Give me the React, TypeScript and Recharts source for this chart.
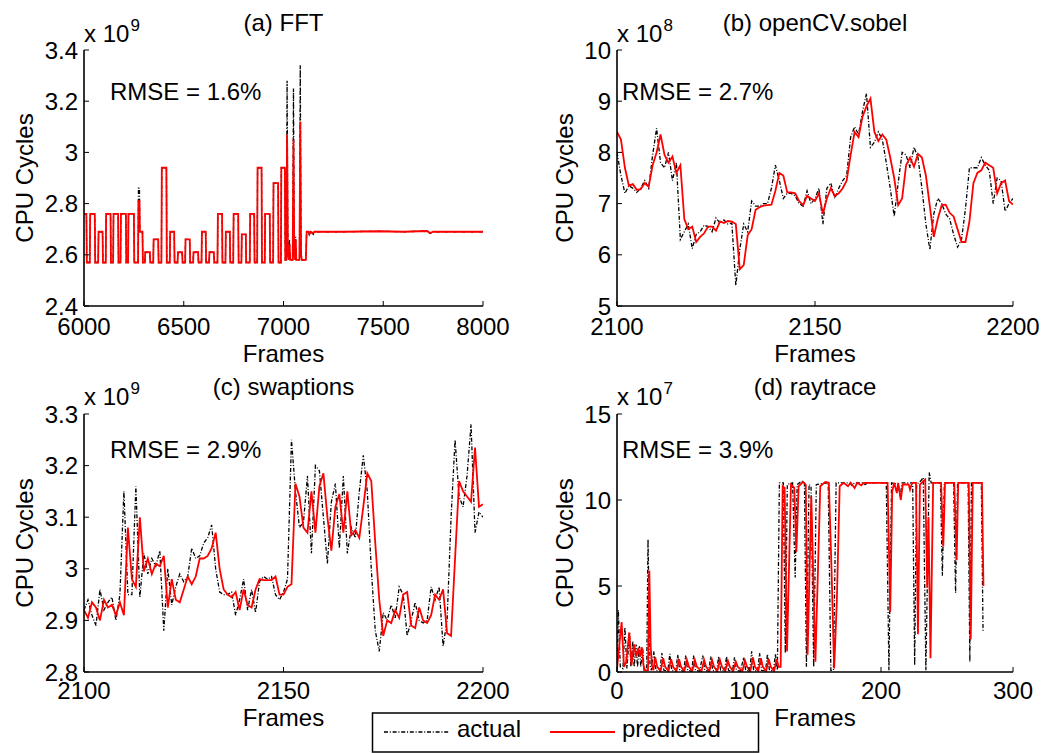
import { LineChart, Line, XAxis, YAxis } from 'recharts';

const FONT = '"Liberation Sans", Arial, Helvetica, sans-serif';

// (a) FFT, x 10^9 cycles, square-wave breakpoints (frame, value)
const fftFrames = [
  6000, 6012, 6014, 6029, 6031, 6054, 6056, 6071, 6073, 6093, 6095, 6109,
  6111, 6133, 6135, 6146, 6148, 6171, 6173, 6183, 6185, 6210, 6212, 6221,
  6223, 6250, 6252, 6271, 6273, 6278, 6280, 6293, 6295, 6305, 6307, 6330,
  6332, 6347, 6349, 6372, 6374, 6388, 6390, 6413, 6415, 6430, 6432, 6452,
  6454, 6469, 6471, 6492, 6494, 6507, 6509, 6530, 6532, 6547, 6549, 6572,
  6574, 6589, 6591, 6610, 6612, 6627, 6629, 6651, 6653, 6669, 6671, 6692,
  6694, 6709, 6711, 6731, 6733, 6748, 6750, 6773, 6775, 6789, 6791, 6811,
  6813, 6831, 6833, 6853, 6855, 6868, 6870, 6890, 6892, 6906, 6908, 6931,
  6933, 6948, 6950, 6973, 6975, 6987, 6989, 7007, 7009, 7014, 7018, 7022,
  7026, 7030, 7034, 7046, 7050, 7054, 7058, 7061, 7064, 7080, 7084, 7088,
  7092, 7112, 7116, 7125, 7130, 7135, 7150, 7155, 7300, 7480, 7600, 7720,
  7735, 7750, 7900, 8000,
];
const fftActual = [
  2.76, 2.76, 2.57, 2.57, 2.76, 2.76, 2.57, 2.57, 2.69, 2.69, 2.57, 2.57,
  2.76, 2.76, 2.57, 2.57, 2.76, 2.76, 2.57, 2.57, 2.76, 2.76, 2.57, 2.57,
  2.76, 2.76, 2.57, 2.57, 2.86, 2.86, 2.69, 2.69, 2.57, 2.57, 2.61, 2.61,
  2.57, 2.57, 2.66, 2.66, 2.57, 2.57, 2.94, 2.94, 2.57, 2.57, 2.69, 2.69,
  2.57, 2.57, 2.61, 2.61, 2.57, 2.57, 2.66, 2.66, 2.57, 2.57, 2.61, 2.61,
  2.57, 2.57, 2.69, 2.69, 2.57, 2.57, 2.61, 2.61, 2.57, 2.57, 2.76, 2.76,
  2.57, 2.57, 2.69, 2.69, 2.57, 2.57, 2.76, 2.76, 2.57, 2.57, 2.68, 2.68,
  2.57, 2.57, 2.76, 2.76, 2.57, 2.57, 2.94, 2.94, 2.57, 2.57, 2.76, 2.76,
  2.57, 2.57, 2.88, 2.88, 2.57, 2.57, 2.94, 2.94, 2.58, 2.58, 3.28, 2.6,
  2.58, 2.66, 2.58, 2.58, 3.25, 2.6, 2.58, 2.67, 2.58, 2.58, 3.34, 2.6,
  2.58, 2.58, 2.69, 2.69, 2.675, 2.69, 2.68, 2.69, 2.69, 2.692, 2.69, 2.693,
  2.683, 2.69, 2.69, 2.69,
];
const fftPredicted = [
  2.76, 2.76, 2.57, 2.57, 2.76, 2.76, 2.57, 2.57, 2.69, 2.69, 2.57, 2.57,
  2.76, 2.76, 2.57, 2.57, 2.76, 2.76, 2.57, 2.57, 2.76, 2.76, 2.57, 2.57,
  2.76, 2.76, 2.57, 2.57, 2.81, 2.81, 2.69, 2.69, 2.57, 2.57, 2.61, 2.61,
  2.57, 2.57, 2.66, 2.66, 2.57, 2.57, 2.94, 2.94, 2.57, 2.57, 2.69, 2.69,
  2.57, 2.57, 2.61, 2.61, 2.57, 2.57, 2.66, 2.66, 2.57, 2.57, 2.61, 2.61,
  2.57, 2.57, 2.69, 2.69, 2.57, 2.57, 2.61, 2.61, 2.57, 2.57, 2.76, 2.76,
  2.57, 2.57, 2.69, 2.69, 2.57, 2.57, 2.76, 2.76, 2.57, 2.57, 2.68, 2.68,
  2.57, 2.57, 2.76, 2.76, 2.57, 2.57, 2.94, 2.94, 2.57, 2.57, 2.76, 2.76,
  2.57, 2.57, 2.88, 2.88, 2.57, 2.57, 2.94, 2.94, 2.58, 2.58, 3.07, 2.6,
  2.58, 2.64, 2.58, 2.58, 3.05, 2.6, 2.58, 2.66, 2.58, 2.58, 3.12, 2.6,
  2.58, 2.58, 2.69, 2.69, 2.68, 2.69, 2.685, 2.69, 2.69, 2.692, 2.69, 2.693,
  2.685, 2.69, 2.69, 2.69,
];

// (b) openCV.sobel, x 10^8 cycles, one value per frame from 2100
const sobelFirstFrame = 2100;
const sobelActual = [
  8.0, 7.55, 7.2, 7.35, 7.3, 7.22, 7.3, 7.45, 7.3, 7.95,
  8.47, 7.8, 7.7, 8.0, 7.45, 7.8, 6.3, 6.45, 6.6, 6.12,
  6.4, 6.45, 6.58, 6.55, 6.45, 6.72, 6.62, 6.68, 6.6, 6.62,
  5.4, 6.1, 6.6, 6.45, 7.05, 6.95, 6.95, 7.0, 7.0, 7.3,
  7.75, 7.45, 7.1, 7.2, 7.2, 7.15, 7.0, 6.95, 7.25, 7.0,
  7.1, 7.3, 6.6, 7.3, 7.4, 7.1, 7.3, 7.45, 7.55, 8.3,
  8.5, 8.35, 8.8, 9.15, 8.1, 8.2, 8.4, 8.25, 7.8, 7.3,
  6.75, 7.4, 8.0, 7.95, 7.7, 8.1, 7.9, 7.3, 6.6, 6.1,
  6.8, 7.1, 7.0, 6.8, 6.7, 6.4, 6.15, 6.3, 6.9, 7.7,
  7.7, 7.7, 7.9, 7.75, 7.65, 7.0, 7.5, 7.45, 6.85, 7.0,
  7.1,
];
const sobelPredicted = [
  8.4, 8.25, 7.7, 7.35, 7.38, 7.27, 7.28, 7.4, 7.33, 7.75,
  8.0, 8.35, 7.95, 7.8, 7.92, 7.6, 7.75, 6.7, 6.5, 6.55,
  6.25, 6.35, 6.42, 6.55, 6.55, 6.47, 6.65, 6.62, 6.66, 6.65,
  6.6, 5.72, 5.8, 6.38, 6.5, 6.88, 6.93, 6.96, 6.97, 6.98,
  7.25, 7.6, 7.55, 7.22, 7.22, 7.2, 7.05, 6.97, 7.15, 7.1,
  7.05, 7.2, 6.8, 7.1, 7.3, 7.15, 7.2, 7.3, 7.45, 7.95,
  8.4, 8.3, 8.7, 8.9, 9.05, 8.4, 8.22, 8.35, 8.25, 7.9,
  7.5, 6.97, 7.1, 7.75, 7.9, 7.72, 7.97, 7.9, 7.55, 6.95,
  6.35, 6.7, 6.97, 6.98, 6.82, 6.75, 6.5, 6.25, 6.25, 6.65,
  7.4, 7.6, 7.65, 7.8, 7.75, 7.7, 7.2, 7.4, 7.45, 7.05,
  6.98,
];

// (c) swaptions, x 10^9 cycles, one value per frame from 2100
const swapFirstFrame = 2100;
const swapActual = [
  2.92, 2.94, 2.91, 2.89, 2.96, 2.92, 2.935, 2.945, 2.9, 2.95,
  3.15, 2.95, 2.95, 3.16, 2.945, 3.03, 2.99, 3.02, 3.005, 3.035,
  2.88, 3.0, 2.93, 2.965, 2.99, 2.975, 2.985, 3.04, 3.02, 3.025,
  3.05, 3.06, 3.085, 3.0, 2.955, 2.95, 2.95, 2.955, 2.91, 2.94,
  2.98, 2.92, 2.96, 2.915, 2.975, 2.985, 2.98, 2.985, 2.95, 2.94,
  2.955, 2.98, 3.25, 3.15, 3.08, 3.09, 3.18, 3.03, 3.2, 3.19,
  3.1, 3.01, 3.13, 3.165, 3.04, 3.18, 3.03, 3.08, 3.06, 3.15,
  3.22, 3.15, 3.0, 2.88, 2.84, 2.915, 2.9, 2.93, 2.905, 2.965,
  2.95, 2.87, 2.9, 2.935, 2.9, 2.895, 2.9, 2.965, 2.94, 2.965,
  2.85, 2.9, 3.1, 3.25, 3.14, 3.12, 3.18, 3.28, 3.07, 3.11,
  3.1,
];
const swapPredicted = [
  2.92, 2.905, 2.935, 2.925, 2.9, 2.94, 2.925, 2.93, 2.91, 2.935,
  2.91, 3.08, 2.98, 2.965, 3.1, 2.995, 3.02, 2.99, 3.01, 3.005,
  3.025, 2.925, 2.98, 2.94, 2.935, 2.96, 2.985, 2.97, 2.985, 3.02,
  3.02, 3.025, 3.04, 3.07, 3.0, 2.96, 2.95, 2.945, 2.955, 2.92,
  2.96, 2.93, 2.925, 2.96, 2.98, 2.978, 2.978, 2.978, 2.985, 2.95,
  2.95, 2.965, 2.97, 3.165, 3.14, 3.08, 3.07, 3.15, 3.07, 3.16,
  3.185, 3.1, 3.035, 3.12, 3.145, 3.07, 3.15, 3.065, 3.075, 3.06,
  3.12, 3.185, 3.17, 3.05, 2.94, 2.87, 2.9, 2.895, 2.92, 2.905,
  2.95, 2.955, 2.89, 2.885, 2.925, 2.9, 2.895, 2.91, 2.95, 2.94,
  2.96, 2.875, 2.87, 3.02, 3.17, 3.15, 3.14, 3.13, 3.235, 3.12,
  3.125,
];

// (d) raytrace, x 10^7 cycles, breakpoints (frame, value)
const rtActualFrames = [
  0, 1, 2.5, 4.5, 6, 7.5, 9.5, 10.5, 12, 13, 14.5, 15.5, 17, 18, 19.5, 20.5, 22.5, 23.5, 25, 26,
  28, 29.5, 32.5, 34, 35.5, 38.5, 40, 41.5, 44.5, 46, 47.5, 50.5, 52, 53.5, 56.5, 58, 59.5, 62.5,
  65, 66.5, 69.5, 71, 72.5, 75.5, 77, 78.5, 81.5, 83, 84.5, 87.5, 89, 90.5, 93.5, 96, 97.5, 100.5,
  102, 103.5, 106.5, 108, 109.5, 112.5, 114, 115.5, 118.5, 120, 121.5,
  123, 126, 127.5, 129, 133, 135, 136.5, 140, 142, 143.5, 145.5, 147, 149, 151, 160, 162, 164, 166,
  176, 178, 180, 186, 188, 190, 204, 206, 208, 213, 214.5, 216, 224, 225.5, 227, 230, 232, 234,
  236.5, 238, 245, 246.5, 248, 255, 256.5, 258, 266, 267.3, 268.5, 276, 277.3,
];
const rtActual = [
  0.2, 3.6, 0.3, 0.2, 2.6, 0.2, 2.3, 0.3, 1.8, 0.3, 1.6, 0.3, 1.5, 0.3, 1.4, 0.1, 0.1, 7.7, 0.4, 0.1,
  1.2, 0.1, 0.05, 1.1, 0.1, 0.05, 1.05, 0.1, 0.05, 1.0, 0.1, 0.05, 0.95, 0.1, 0.05, 0.95, 0.1, 0.05,
  0.95, 0.1, 0.05, 0.9, 0.1, 0.05, 0.9, 0.1, 0.05, 0.9, 0.1, 0.05, 0.85, 0.1, 0.05, 0.85, 0.1, 0.05,
  1.2, 0.1, 0.05, 1.1, 0.1, 0.05, 1.05, 0.1, 0.05, 1.05, 0.1,
  11.0, 11.0, 1.1, 10.9, 11.0, 5.5, 10.9, 11.1, 11.0, 0.3, 10.9, 10.8, 0.3, 10.9, 11.0, 0.1, 0.1, 11.0,
  11.0, 10.85, 11.0, 11.0, 10.9, 11.0, 11.0, 0.1, 11.0, 10.9, 10.2, 11.0, 11.0, 0.4, 10.9, 11.1, 11.3, 0.1,
  11.6, 11.0, 11.0, 5.6, 11.0, 11.0, 4.6, 11.0, 11.0, 0.6, 11.0, 11.0, 2.4,
];
const rtPredictedFrames = [
  0, 3.5, 5.3, 7, 9.3, 11, 13, 14.5, 16.2, 17.3, 18.7, 20, 21.2, 23.5, 24.5, 25.5, 26.5, 27.5,
  29, 30.5, 33, 35, 36.5, 39, 41, 42.5, 45, 47, 48.5, 51, 53, 54.5, 57, 59, 60.5, 64,
  66, 67.5, 70, 72, 73.5, 76, 78, 79.5, 82, 84, 85.5, 88, 90, 91.5, 95, 97, 98.5, 101,
  103, 104.5, 107, 109, 110.5, 113, 115, 116.5, 119, 121, 122.5,
  124, 125.5, 127, 128.8, 131.8, 134.3, 135.9, 137.6, 141, 143, 144.4, 147.2, 150.3, 154, 157.8,
  160.5, 162.5, 164.5, 166.5, 168.7, 171.7, 175, 177, 180, 182, 185, 187, 205, 207, 208.5, 210,
  212, 213, 215, 216.5, 221, 222, 223.5, 226.5, 228, 229.5, 232, 233.5, 235, 236, 237.5, 239.5,
  245.5, 247.2, 248.5, 255.5, 257.3, 258.5, 266.5, 268, 269.5, 276.5, 277.6,
];
const rtPredicted = [
  0.2, 2.9, 0.3, 0.6, 2.3, 0.4, 1.6, 0.9, 1.4, 0.9, 1.45, 0.4, 0.1, 0.1, 5.9, 1.5, 0.4, 0.1,
  0.85, 0.3, 0.05, 0.8, 0.3, 0.05, 0.75, 0.3, 0.05, 0.75, 0.3, 0.05, 0.7, 0.3, 0.05, 0.7, 0.3, 0.05,
  0.7, 0.3, 0.05, 0.7, 0.3, 0.05, 0.7, 0.3, 0.05, 0.65, 0.3, 0.05, 0.6, 0.3, 0.05, 0.65, 0.3, 0.05,
  0.85, 0.3, 0.05, 0.8, 0.3, 0.05, 0.75, 0.3, 0.05, 0.75, 0.3,
  0.3, 10.8, 10.7, 1.2, 10.9, 10.7, 7.0, 10.8, 11.05, 10.9, 1.0, 10.2, 0.6, 10.8, 11.05,
  11.0, 6.0, 0.2, 4.0, 10.8, 11.0, 10.8, 11.0, 10.7, 11.0, 10.85, 11.0, 11.0, 3.5, 10.5, 11.0,
  10.4, 11.0, 10.0, 10.9, 10.9, 10.6, 11.0, 11.0, 2.2, 10.9, 11.1, 11.2, 4.9, 9.0, 0.8, 11.0,
  11.0, 7.3, 11.0, 11.0, 6.5, 11.0, 11.0, 1.9, 11.0, 11.0, 5.0,
];

interface Pt {
  x: number;
  y: number;
}

function pairUp(xs: number[], ys: number[]): Pt[] {
  return xs.map((x, i) => ({ x, y: ys[i] }));
}

function perFrame(first: number, ys: number[]): Pt[] {
  return ys.map((y, i) => ({ x: first + i, y }));
}

const LEFT = 80;
const TOP = 24;
const RIGHT = 40;
const BOTTOM = 40;

const ACTUAL_DASH = '4 1.8 1 1.8';

interface PanelProps {
  x: number;
  y: number;
  w: number;
  h: number;
  xDomain: [number, number];
  xTicks: number[];
  yDomain: [number, number];
  yTicks: number[];
  actual: Pt[];
  predicted: Pt[];
  xTickMargin: number;
}

function Panel(p: PanelProps) {
  const axisLine = { stroke: '#000', strokeWidth: 1.6 };
  const tickLine = { stroke: '#000', strokeWidth: 1 };
  const tick = { fill: '#000', fontSize: 24, fontFamily: FONT };
  return (
    <div style={{ position: 'absolute', left: p.x - LEFT, top: p.y - TOP }}>
      <LineChart
        width={p.w + LEFT + RIGHT}
        height={p.h + TOP + BOTTOM}
        margin={{ top: TOP, right: RIGHT, bottom: 0, left: 0 }}
      >
        <XAxis
          xAxisId="bottom"
          type="number"
          dataKey="x"
          domain={p.xDomain}
          ticks={p.xTicks}
          interval={0}
          allowDataOverflow
          height={BOTTOM}
          axisLine={axisLine}
          tickLine={tickLine}
          tick={tick}
          tickSize={-5}
          tickMargin={p.xTickMargin}
        />
        <XAxis
          xAxisId="top"
          orientation="top"
          type="number"
          dataKey="x"
          domain={p.xDomain}
          ticks={p.xTicks}
          interval={0}
          allowDataOverflow
          height={0}
          mirror
          axisLine={axisLine}
          tickLine={tickLine}
          tick={false}
          tickSize={5}
        />
        <YAxis
          yAxisId="left"
          type="number"
          domain={p.yDomain}
          ticks={p.yTicks}
          interval={0}
          allowDataOverflow
          width={LEFT}
          axisLine={axisLine}
          tickLine={tickLine}
          tick={tick}
          tickSize={-5}
          tickMargin={11}
        />
        <YAxis
          yAxisId="right"
          orientation="right"
          type="number"
          domain={p.yDomain}
          ticks={p.yTicks}
          interval={0}
          allowDataOverflow
          width={0}
          mirror
          axisLine={axisLine}
          tickLine={tickLine}
          tick={false}
          tickSize={5}
        />
        <Line
          xAxisId="bottom"
          yAxisId="left"
          data={p.actual}
          dataKey="y"
          type="linear"
          stroke="#000"
          strokeWidth={1.3}
          strokeDasharray={ACTUAL_DASH}
          dot={false}
          activeDot={false}
          isAnimationActive={false}
        />
        <Line
          xAxisId="bottom"
          yAxisId="left"
          data={p.predicted}
          dataKey="y"
          type="linear"
          stroke="#ff0000"
          strokeWidth={1.8}
          dot={false}
          activeDot={false}
          isAnimationActive={false}
        />
      </LineChart>
    </div>
  );
}

function Exponent({ x, y, power }: { x: number; y: number; power: string }) {
  return (
    <text x={x} y={y} fontSize={24}>
      x 10
      <tspan fontSize={17} dx={1} dy={-11}>
        {power}
      </tspan>
    </text>
  );
}

function YLabel({ x, y }: { x: number; y: number }) {
  return (
    <text transform={`translate(${x},${y}) rotate(-90)`} textAnchor="middle" fontSize={24}>
      CPU Cycles
    </text>
  );
}

export default function App() {
  return (
    <div
      style={{
        position: 'fixed',
        left: 0,
        top: 0,
        width: 1047,
        height: 753,
        background: '#fff',
        overflow: 'hidden',
        fontFamily: FONT,
      }}
    >
      <Panel
        x={84}
        y={50}
        w={399}
        h={256}
        xDomain={[6000, 8000]}
        xTicks={[6000, 6500, 7000, 7500, 8000]}
        yDomain={[2.4, 3.4]}
        yTicks={[2.4, 2.6, 2.8, 3, 3.2, 3.4]}
        actual={pairUp(fftFrames, fftActual)}
        predicted={pairUp(fftFrames, fftPredicted)}
        xTickMargin={17}
      />
      <Panel
        x={617}
        y={50}
        w={396}
        h={256}
        xDomain={[2100, 2200]}
        xTicks={[2100, 2150, 2200]}
        yDomain={[5, 10]}
        yTicks={[5, 6, 7, 8, 9, 10]}
        actual={perFrame(sobelFirstFrame, sobelActual)}
        predicted={perFrame(sobelFirstFrame, sobelPredicted)}
        xTickMargin={17}
      />
      <Panel
        x={84}
        y={414}
        w={399}
        h={258}
        xDomain={[2100, 2200]}
        xTicks={[2100, 2150, 2200]}
        yDomain={[2.8, 3.3]}
        yTicks={[2.8, 2.9, 3, 3.1, 3.2, 3.3]}
        actual={perFrame(swapFirstFrame, swapActual)}
        predicted={perFrame(swapFirstFrame, swapPredicted)}
        xTickMargin={14.5}
      />
      <Panel
        x={617}
        y={414}
        w={396}
        h={258}
        xDomain={[0, 300]}
        xTicks={[0, 100, 200, 300]}
        yDomain={[0, 15]}
        yTicks={[0, 5, 10, 15]}
        actual={pairUp(rtActualFrames, rtActual)}
        predicted={pairUp(rtPredictedFrames, rtPredicted)}
        xTickMargin={14.5}
      />

      <svg
        width={1047}
        height={753}
        style={{ position: 'absolute', left: 0, top: 0, pointerEvents: 'none' }}
        fontFamily={FONT}
        fill="#000"
      >
        <text x={283.5} y={31} textAnchor="middle" fontSize={24}>(a) FFT</text>
        <text x={815} y={31} textAnchor="middle" fontSize={24}>(b) openCV.sobel</text>
        <text x={283.5} y={395} textAnchor="middle" fontSize={24}>(c) swaptions</text>
        <text x={815} y={395} textAnchor="middle" fontSize={24}>(d) raytrace</text>

        <Exponent x={84} y={42} power="9" />
        <Exponent x={617} y={42} power="8" />
        <Exponent x={84} y={405} power="9" />
        <Exponent x={617} y={405} power="7" />

        <text x={110} y={100} fontSize={24}>RMSE = 1.6%</text>
        <text x={622} y={100} fontSize={24}>RMSE = 2.7%</text>
        <text x={110} y={458} fontSize={24}>RMSE = 2.9%</text>
        <text x={622} y={458} fontSize={24}>RMSE = 3.9%</text>

        <text x={283.5} y={362} textAnchor="middle" fontSize={24}>Frames</text>
        <text x={815} y={362} textAnchor="middle" fontSize={24}>Frames</text>
        <text x={283.5} y={726} textAnchor="middle" fontSize={24}>Frames</text>
        <text x={815} y={726} textAnchor="middle" fontSize={24}>Frames</text>

        <YLabel x={33} y={178} />
        <YLabel x={573} y={178} />
        <YLabel x={33} y={543} />
        <YLabel x={573} y={543} />

        {/* legend */}
        <rect x={372.5} y={713} width={386} height={39} fill="#fff" stroke="#000" strokeWidth={1.5} />
        <line x1={384} y1={732} x2={449} y2={732} stroke="#000" strokeWidth={1.3} strokeDasharray={ACTUAL_DASH} />
        <text x={457} y={737} fontSize={24}>actual</text>
        <line x1={550} y1={732} x2={615} y2={732} stroke="#ff0000" strokeWidth={1.8} />
        <text x={622} y={737} fontSize={24}>predicted</text>
      </svg>
    </div>
  );
}
